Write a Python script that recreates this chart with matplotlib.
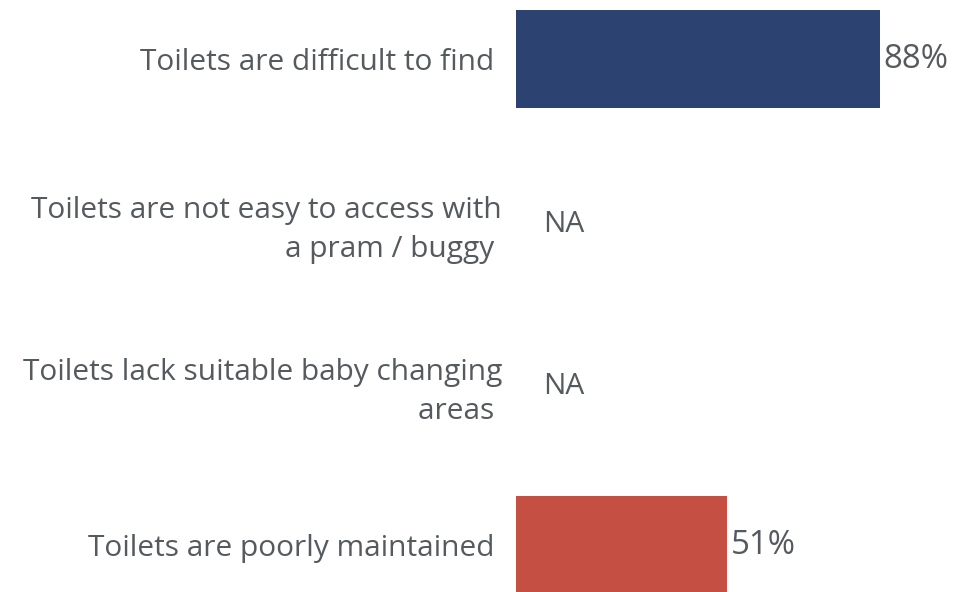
import matplotlib
matplotlib.use("Agg")
import matplotlib.pyplot as plt
import numpy as np

# ── data ──────────────────────────────────────────────────────────────
categories = [
    "Toilets are difficult to find ",
    "Toilets are not easy to access with\na pram / buggy ",
    "Toilets lack suitable baby changing\nareas ",
    "Toilets are poorly maintained ",
]
values = [88, None, None, 51]          # None -> NA
bar_colors = ["#2c4372", "#2c4372", "#2c4372", "#c44f42"]

TEXT_C = "#555a5f"
FS = 21.5
VAL_FS = 23.8
plt.rcParams["font.family"] = ["Open Sans", "DejaVu Sans"]

fig = plt.figure(figsize=(9.73, 5.92), dpi=100)
# axes spans past the bottom edge so the last bar is cut like the source
ax = fig.add_axes([516 / 973, 1 - 626 / 592, 414 / 973, 648 / 592])

y = np.arange(len(categories))
for yi, v, c in zip(y, values, bar_colors):
    if v is None:
        ax.text(6.6, yi + 0.02, "NA", va="center", ha="left", fontsize=FS, color=TEXT_C)
        continue
    ax.barh(yi, v, height=0.605, color=c)
    ax.text(v + 0.8, yi, f"{v}%", va="center", ha="left", fontsize=VAL_FS, color=TEXT_C)

ax.set_xlim(0, 100)
ax.set_ylim(3.5, -0.5)
ax.set_yticks(y)
ax.set_yticklabels(categories, fontsize=FS, color=TEXT_C, linespacing=1.49)
ax.tick_params(axis="y", length=0, pad=10)
ax.set_xticks([])
for s in ax.spines.values():
    s.set_visible(False)

fig.savefig("out.png", dpi=100)
